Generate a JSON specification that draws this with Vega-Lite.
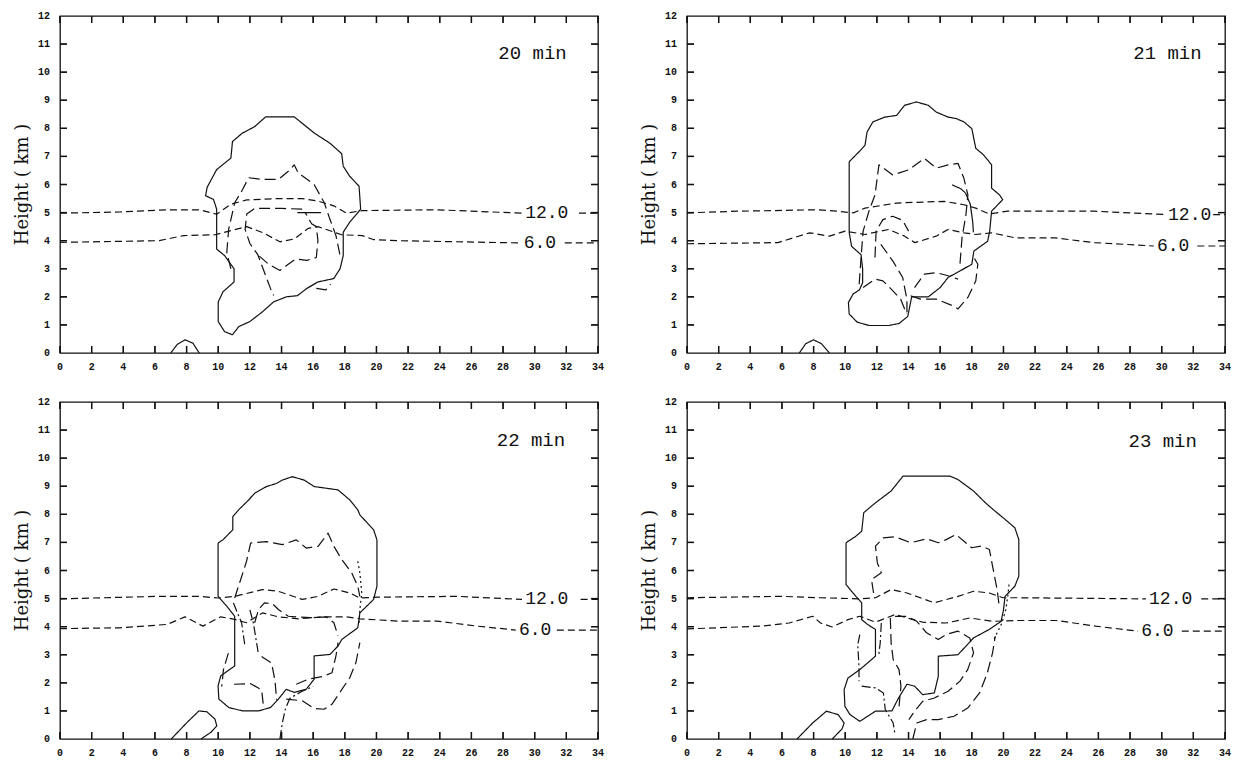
{
  "$schema": "https://vega.github.io/schema/vega-lite/v6.json",
  "background": "white",
  "padding": {"left": 13, "top": 10, "right": 2, "bottom": 2},
  "config": {
    "view": {"stroke": "#111", "strokeWidth": 1.3}
  },
  "datasets": {
    "xt": [{"v":0},{"v":2},{"v":4},{"v":6},{"v":8},{"v":10},{"v":12},{"v":14},{"v":16},{"v":18},{"v":20},{"v":22},{"v":24},{"v":26},{"v":28},{"v":30},{"v":32},{"v":34}],
    "yt": [{"v":1},{"v":2},{"v":3},{"v":4},{"v":5},{"v":6},{"v":7},{"v":8},{"v":9},{"v":10},{"v":11}],
    "yl": [{"v":0},{"v":1},{"v":2},{"v":3},{"v":4},{"v":5},{"v":6},{"v":7},{"v":8},{"v":9},{"v":10},{"v":11},{"v":12}],
    "ttl": [{"t":"Height ( km )"}],
    "contours": [
      {"p":1,"id":"cl","s":"solid","o":0,"x":13.0,"y":8.41},{"p":1,"id":"cl","s":"solid","o":1,"x":14.8,"y":8.41},{"p":1,"id":"cl","s":"solid","o":2,"x":16.1,"y":7.82},{"p":1,"id":"cl","s":"solid","o":3,"x":17.06,"y":7.47},{"p":1,"id":"cl","s":"solid","o":4,"x":17.8,"y":7.1},{"p":1,"id":"cl","s":"solid","o":5,"x":17.9,"y":6.65},{"p":1,"id":"cl","s":"solid","o":6,"x":18.3,"y":6.3},{"p":1,"id":"cl","s":"solid","o":7,"x":18.9,"y":5.94},{"p":1,"id":"cl","s":"solid","o":8,"x":19.0,"y":5.12},{"p":1,"id":"cl","s":"solid","o":9,"x":18.3,"y":4.65},{"p":1,"id":"cl","s":"solid","o":10,"x":17.9,"y":4.3},{"p":1,"id":"cl","s":"solid","o":11,"x":17.9,"y":3.47},{"p":1,"id":"cl","s":"solid","o":12,"x":17.7,"y":3.0},{"p":1,"id":"cl","s":"solid","o":13,"x":17.3,"y":2.65},{"p":1,"id":"cl","s":"solid","o":14,"x":16.3,"y":2.53},{"p":1,"id":"cl","s":"solid","o":15,"x":15.6,"y":2.3},{"p":1,"id":"cl","s":"solid","o":16,"x":15.0,"y":2.04},{"p":1,"id":"cl","s":"solid","o":17,"x":14.3,"y":2.0},{"p":1,"id":"cl","s":"solid","o":18,"x":13.5,"y":1.82},{"p":1,"id":"cl","s":"solid","o":19,"x":12.8,"y":1.47},{"p":1,"id":"cl","s":"solid","o":20,"x":12.0,"y":1.12},{"p":1,"id":"cl","s":"solid","o":21,"x":11.3,"y":0.94},{"p":1,"id":"cl","s":"solid","o":22,"x":10.9,"y":0.65},{"p":1,"id":"cl","s":"solid","o":23,"x":10.4,"y":0.76},{"p":1,"id":"cl","s":"solid","o":24,"x":10.0,"y":1.12},{"p":1,"id":"cl","s":"solid","o":25,"x":10.0,"y":1.82},{"p":1,"id":"cl","s":"solid","o":26,"x":10.3,"y":2.18},{"p":1,"id":"cl","s":"solid","o":27,"x":11.0,"y":2.53},{"p":1,"id":"cl","s":"solid","o":28,"x":11.0,"y":3.0},{"p":1,"id":"cl","s":"solid","o":29,"x":10.4,"y":3.47},{"p":1,"id":"cl","s":"solid","o":30,"x":9.9,"y":3.7},{"p":1,"id":"cl","s":"solid","o":31,"x":9.9,"y":5.12},{"p":1,"id":"cl","s":"solid","o":32,"x":9.7,"y":5.47},{"p":1,"id":"cl","s":"solid","o":33,"x":9.2,"y":5.6},{"p":1,"id":"cl","s":"solid","o":34,"x":9.3,"y":5.9},{"p":1,"id":"cl","s":"solid","o":35,"x":9.9,"y":6.53},{"p":1,"id":"cl","s":"solid","o":36,"x":10.8,"y":6.94},{"p":1,"id":"cl","s":"solid","o":37,"x":10.9,"y":7.53},{"p":1,"id":"cl","s":"solid","o":38,"x":11.5,"y":7.82},{"p":1,"id":"cl","s":"solid","o":39,"x":12.3,"y":8.06},{"p":1,"id":"cl","s":"solid","o":40,"x":13.0,"y":8.41},
      {"p":1,"id":"bp","s":"solid","o":0,"x":7.0,"y":0},{"p":1,"id":"bp","s":"solid","o":1,"x":7.4,"y":0.3},{"p":1,"id":"bp","s":"solid","o":2,"x":7.9,"y":0.47},{"p":1,"id":"bp","s":"solid","o":3,"x":8.4,"y":0.35},{"p":1,"id":"bp","s":"solid","o":4,"x":8.8,"y":0},
      {"p":1,"id":"ia","s":"short","o":0,"x":0,"y":4.98},{"p":1,"id":"ia","s":"short","o":1,"x":3.76,"y":5.02},{"p":1,"id":"ia","s":"short","o":2,"x":6.8,"y":5.1},{"p":1,"id":"ia","s":"short","o":3,"x":8.8,"y":5.1},{"p":1,"id":"ia","s":"short","o":4,"x":9.9,"y":4.94},{"p":1,"id":"ia","s":"short","o":5,"x":10.8,"y":5.3},{"p":1,"id":"ia","s":"short","o":6,"x":11.8,"y":5.45},{"p":1,"id":"ia","s":"short","o":7,"x":13.8,"y":5.5},{"p":1,"id":"ia","s":"short","o":8,"x":15.3,"y":5.5},{"p":1,"id":"ia","s":"short","o":9,"x":16.3,"y":5.41},{"p":1,"id":"ia","s":"short","o":10,"x":17.3,"y":5.24},{"p":1,"id":"ia","s":"short","o":11,"x":18.1,"y":4.98},{"p":1,"id":"ia","s":"short","o":12,"x":19.1,"y":5.07},{"p":1,"id":"ia","s":"short","o":13,"x":23.8,"y":5.1},{"p":1,"id":"ia","s":"short","o":14,"x":29.2,"y":4.98},
      {"p":1,"id":"ib","s":"short","o":0,"x":32.8,"y":4.98},{"p":1,"id":"ib","s":"short","o":1,"x":34,"y":4.98},
      {"p":1,"id":"ja","s":"short","o":0,"x":0,"y":3.94},{"p":1,"id":"ja","s":"short","o":1,"x":6.27,"y":4.0},{"p":1,"id":"ja","s":"short","o":2,"x":7.8,"y":4.18},{"p":1,"id":"ja","s":"short","o":3,"x":9.8,"y":4.21},{"p":1,"id":"ja","s":"short","o":4,"x":11.8,"y":4.5},{"p":1,"id":"ja","s":"short","o":5,"x":12.8,"y":4.29},{"p":1,"id":"ja","s":"short","o":6,"x":13.9,"y":3.96},{"p":1,"id":"ja","s":"short","o":7,"x":14.8,"y":4.06},{"p":1,"id":"ja","s":"short","o":8,"x":15.7,"y":4.44},{"p":1,"id":"ja","s":"short","o":9,"x":16.3,"y":4.5},{"p":1,"id":"ja","s":"short","o":10,"x":17.8,"y":4.21},{"p":1,"id":"ja","s":"short","o":11,"x":19.1,"y":4.18},{"p":1,"id":"ja","s":"short","o":12,"x":19.8,"y":4.04},{"p":1,"id":"ja","s":"short","o":13,"x":21.3,"y":4.0},{"p":1,"id":"ja","s":"short","o":14,"x":29.0,"y":3.92},
      {"p":1,"id":"jb","s":"short","o":0,"x":31.9,"y":3.92},{"p":1,"id":"jb","s":"short","o":1,"x":34,"y":3.92},
      {"p":1,"id":"A","s":"long","o":0,"x":10.8,"y":3.0},{"p":1,"id":"A","s":"long","o":1,"x":10.54,"y":3.58},{"p":1,"id":"A","s":"long","o":2,"x":10.66,"y":4.41},{"p":1,"id":"A","s":"long","o":3,"x":11.04,"y":5.35},{"p":1,"id":"A","s":"long","o":4,"x":11.54,"y":5.82},{"p":1,"id":"A","s":"long","o":5,"x":11.92,"y":6.24},{"p":1,"id":"A","s":"long","o":6,"x":12.8,"y":6.18},{"p":1,"id":"A","s":"long","o":7,"x":13.8,"y":6.18},{"p":1,"id":"A","s":"long","o":8,"x":14.43,"y":6.47},{"p":1,"id":"A","s":"long","o":9,"x":14.8,"y":6.7},{"p":1,"id":"A","s":"long","o":10,"x":15.06,"y":6.41},{"p":1,"id":"A","s":"long","o":11,"x":16.06,"y":6.0},{"p":1,"id":"A","s":"long","o":12,"x":16.7,"y":5.35},{"p":1,"id":"A","s":"long","o":13,"x":17.06,"y":4.76},{"p":1,"id":"A","s":"long","o":14,"x":17.44,"y":4.18},{"p":1,"id":"A","s":"long","o":15,"x":17.7,"y":3.47},
      {"p":1,"id":"B","s":"long","o":0,"x":15.3,"y":5.12},{"p":1,"id":"B","s":"long","o":1,"x":14.0,"y":5.15},{"p":1,"id":"B","s":"long","o":2,"x":12.3,"y":5.15},{"p":1,"id":"B","s":"long","o":3,"x":11.8,"y":4.95},{"p":1,"id":"B","s":"long","o":4,"x":11.7,"y":4.4},{"p":1,"id":"B","s":"long","o":5,"x":12.0,"y":3.9},{"p":1,"id":"B","s":"long","o":6,"x":12.5,"y":3.5},{"p":1,"id":"B","s":"long","o":7,"x":12.9,"y":2.9},{"p":1,"id":"B","s":"long","o":8,"x":13.3,"y":2.3},{"p":1,"id":"B","s":"long","o":9,"x":13.5,"y":2.05},
      {"p":1,"id":"C","s":"long","o":0,"x":12.6,"y":3.45},{"p":1,"id":"C","s":"long","o":1,"x":13.2,"y":3.15},{"p":1,"id":"C","s":"long","o":2,"x":13.9,"y":2.94},{"p":1,"id":"C","s":"long","o":3,"x":14.4,"y":3.15},{"p":1,"id":"C","s":"long","o":4,"x":14.9,"y":3.35},{"p":1,"id":"C","s":"long","o":5,"x":15.6,"y":3.3},{"p":1,"id":"C","s":"long","o":6,"x":16.2,"y":3.4},{"p":1,"id":"C","s":"long","o":7,"x":16.3,"y":4.0},{"p":1,"id":"C","s":"long","o":8,"x":16.2,"y":4.5},{"p":1,"id":"C","s":"long","o":9,"x":15.9,"y":4.6},{"p":1,"id":"C","s":"long","o":10,"x":15.5,"y":5.0},
      {"p":1,"id":"D","s":"long","o":0,"x":16.2,"y":2.3},{"p":1,"id":"D","s":"long","o":1,"x":16.8,"y":2.25},{"p":1,"id":"D","s":"long","o":2,"x":17.1,"y":2.45},
      {"p":1,"id":"T","s":"thick","o":0,"x":15.0,"y":5.0},{"p":1,"id":"T","s":"thick","o":1,"x":16.5,"y":5.0},

      {"p":2,"id":"cl","s":"solid","o":0,"x":10.25,"y":6.81},{"p":2,"id":"cl","s":"solid","o":1,"x":10.88,"y":7.17},{"p":2,"id":"cl","s":"solid","o":2,"x":11.25,"y":7.4},{"p":2,"id":"cl","s":"solid","o":3,"x":11.38,"y":7.87},{"p":2,"id":"cl","s":"solid","o":4,"x":11.75,"y":8.23},{"p":2,"id":"cl","s":"solid","o":5,"x":12.5,"y":8.4},{"p":2,"id":"cl","s":"solid","o":6,"x":13.25,"y":8.46},{"p":2,"id":"cl","s":"solid","o":7,"x":13.75,"y":8.82},{"p":2,"id":"cl","s":"solid","o":8,"x":14.5,"y":8.94},{"p":2,"id":"cl","s":"solid","o":9,"x":15.25,"y":8.82},{"p":2,"id":"cl","s":"solid","o":10,"x":15.75,"y":8.58},{"p":2,"id":"cl","s":"solid","o":11,"x":16.5,"y":8.4},{"p":2,"id":"cl","s":"solid","o":12,"x":17.0,"y":8.35},{"p":2,"id":"cl","s":"solid","o":13,"x":17.5,"y":8.23},{"p":2,"id":"cl","s":"solid","o":14,"x":18.0,"y":7.99},{"p":2,"id":"cl","s":"solid","o":15,"x":18.25,"y":7.29},{"p":2,"id":"cl","s":"solid","o":16,"x":18.75,"y":7.05},{"p":2,"id":"cl","s":"solid","o":17,"x":19.25,"y":6.7},{"p":2,"id":"cl","s":"solid","o":18,"x":19.25,"y":5.87},{"p":2,"id":"cl","s":"solid","o":19,"x":19.75,"y":5.63},{"p":2,"id":"cl","s":"solid","o":20,"x":19.95,"y":5.46},{"p":2,"id":"cl","s":"solid","o":21,"x":19.25,"y":5.05},{"p":2,"id":"cl","s":"solid","o":22,"x":19.13,"y":4.34},{"p":2,"id":"cl","s":"solid","o":23,"x":19.0,"y":3.98},{"p":2,"id":"cl","s":"solid","o":24,"x":18.13,"y":3.63},{"p":2,"id":"cl","s":"solid","o":25,"x":18.0,"y":3.16},{"p":2,"id":"cl","s":"solid","o":26,"x":17.25,"y":2.92},{"p":2,"id":"cl","s":"solid","o":27,"x":16.5,"y":2.69},{"p":2,"id":"cl","s":"solid","o":28,"x":16.0,"y":2.33},{"p":2,"id":"cl","s":"solid","o":29,"x":15.25,"y":2.0},{"p":2,"id":"cl","s":"solid","o":30,"x":14.2,"y":2.0},{"p":2,"id":"cl","s":"solid","o":31,"x":13.95,"y":1.3},{"p":2,"id":"cl","s":"solid","o":32,"x":13.4,"y":1.05},{"p":2,"id":"cl","s":"solid","o":33,"x":12.75,"y":0.98},{"p":2,"id":"cl","s":"solid","o":34,"x":11.5,"y":0.98},{"p":2,"id":"cl","s":"solid","o":35,"x":10.75,"y":1.1},{"p":2,"id":"cl","s":"solid","o":36,"x":10.25,"y":1.39},{"p":2,"id":"cl","s":"solid","o":37,"x":10.2,"y":1.8},{"p":2,"id":"cl","s":"solid","o":38,"x":10.5,"y":2.1},{"p":2,"id":"cl","s":"solid","o":39,"x":10.9,"y":2.25},{"p":2,"id":"cl","s":"solid","o":40,"x":11.1,"y":2.5},{"p":2,"id":"cl","s":"solid","o":41,"x":11.1,"y":3.0},{"p":2,"id":"cl","s":"solid","o":42,"x":11.0,"y":3.5},{"p":2,"id":"cl","s":"solid","o":43,"x":10.4,"y":3.8},{"p":2,"id":"cl","s":"solid","o":44,"x":10.25,"y":4.3},{"p":2,"id":"cl","s":"solid","o":45,"x":10.25,"y":6.81},
      {"p":2,"id":"bp","s":"solid","o":0,"x":7.1,"y":0},{"p":2,"id":"bp","s":"solid","o":1,"x":7.5,"y":0.33},{"p":2,"id":"bp","s":"solid","o":2,"x":8.0,"y":0.47},{"p":2,"id":"bp","s":"solid","o":3,"x":8.5,"y":0.33},{"p":2,"id":"bp","s":"solid","o":4,"x":9.0,"y":0},
      {"p":2,"id":"ia","s":"short","o":0,"x":0,"y":4.99},{"p":2,"id":"ia","s":"short","o":1,"x":3.25,"y":5.05},{"p":2,"id":"ia","s":"short","o":2,"x":8.25,"y":5.1},{"p":2,"id":"ia","s":"short","o":3,"x":9.5,"y":5.05},{"p":2,"id":"ia","s":"short","o":4,"x":10.5,"y":4.99},{"p":2,"id":"ia","s":"short","o":5,"x":11.25,"y":5.16},{"p":2,"id":"ia","s":"short","o":6,"x":13.25,"y":5.34},{"p":2,"id":"ia","s":"short","o":7,"x":16.25,"y":5.4},{"p":2,"id":"ia","s":"short","o":8,"x":17.5,"y":5.28},{"p":2,"id":"ia","s":"short","o":9,"x":18.25,"y":5.16},{"p":2,"id":"ia","s":"short","o":10,"x":19.1,"y":4.95},{"p":2,"id":"ia","s":"short","o":11,"x":20.25,"y":5.05},{"p":2,"id":"ia","s":"short","o":12,"x":25.75,"y":5.05},{"p":2,"id":"ia","s":"short","o":13,"x":30.2,"y":4.93},
      {"p":2,"id":"ib","s":"short","o":0,"x":33.25,"y":4.93},{"p":2,"id":"ib","s":"short","o":1,"x":34,"y":4.93},
      {"p":2,"id":"ja","s":"short","o":0,"x":0,"y":3.89},{"p":2,"id":"ja","s":"short","o":1,"x":5.75,"y":3.93},{"p":2,"id":"ja","s":"short","o":2,"x":7.75,"y":4.28},{"p":2,"id":"ja","s":"short","o":3,"x":9.0,"y":4.16},{"p":2,"id":"ja","s":"short","o":4,"x":10.0,"y":4.34},{"p":2,"id":"ja","s":"short","o":5,"x":11.25,"y":4.22},{"p":2,"id":"ja","s":"short","o":6,"x":12.75,"y":4.4},{"p":2,"id":"ja","s":"short","o":7,"x":13.75,"y":4.16},{"p":2,"id":"ja","s":"short","o":8,"x":14.4,"y":3.93},{"p":2,"id":"ja","s":"short","o":9,"x":15.75,"y":4.16},{"p":2,"id":"ja","s":"short","o":10,"x":16.5,"y":4.4},{"p":2,"id":"ja","s":"short","o":11,"x":17.5,"y":4.28},{"p":2,"id":"ja","s":"short","o":12,"x":18.25,"y":4.22},{"p":2,"id":"ja","s":"short","o":13,"x":19.25,"y":4.28},{"p":2,"id":"ja","s":"short","o":14,"x":20.75,"y":4.1},{"p":2,"id":"ja","s":"short","o":15,"x":23.25,"y":4.1},{"p":2,"id":"ja","s":"short","o":16,"x":25.75,"y":3.93},{"p":2,"id":"ja","s":"short","o":17,"x":29.5,"y":3.81},
      {"p":2,"id":"jb","s":"short","o":0,"x":32.25,"y":3.81},{"p":2,"id":"jb","s":"short","o":1,"x":34,"y":3.81},
      {"p":2,"id":"A","s":"long","o":0,"x":10.88,"y":2.45},{"p":2,"id":"A","s":"long","o":1,"x":11.0,"y":3.4},{"p":2,"id":"A","s":"long","o":2,"x":11.13,"y":4.34},{"p":2,"id":"A","s":"long","o":3,"x":11.5,"y":5.05},{"p":2,"id":"A","s":"long","o":4,"x":11.88,"y":5.63},{"p":2,"id":"A","s":"long","o":5,"x":12.13,"y":6.7},{"p":2,"id":"A","s":"long","o":6,"x":13.0,"y":6.34},{"p":2,"id":"A","s":"long","o":7,"x":14.0,"y":6.52},{"p":2,"id":"A","s":"long","o":8,"x":15.0,"y":6.93},{"p":2,"id":"A","s":"long","o":9,"x":15.75,"y":6.58},{"p":2,"id":"A","s":"long","o":10,"x":16.5,"y":6.7},{"p":2,"id":"A","s":"long","o":11,"x":17.13,"y":6.75},{"p":2,"id":"A","s":"long","o":12,"x":17.5,"y":6.22},{"p":2,"id":"A","s":"long","o":13,"x":17.75,"y":5.63},{"p":2,"id":"A","s":"long","o":14,"x":17.63,"y":4.93},{"p":2,"id":"A","s":"long","o":15,"x":17.38,"y":4.1},{"p":2,"id":"A","s":"long","o":16,"x":17.25,"y":3.16},
      {"p":2,"id":"B","s":"long","o":0,"x":11.88,"y":3.4},{"p":2,"id":"B","s":"long","o":1,"x":11.95,"y":4.34},{"p":2,"id":"B","s":"long","o":2,"x":12.38,"y":4.75},{"p":2,"id":"B","s":"long","o":3,"x":13.0,"y":4.87},{"p":2,"id":"B","s":"long","o":4,"x":13.63,"y":4.72},{"p":2,"id":"B","s":"long","o":5,"x":14.0,"y":4.34},
      {"p":2,"id":"C","s":"long","o":0,"x":12.25,"y":3.87},{"p":2,"id":"C","s":"long","o":1,"x":13.0,"y":3.28},{"p":2,"id":"C","s":"long","o":2,"x":13.63,"y":2.69},{"p":2,"id":"C","s":"long","o":3,"x":13.9,"y":1.9},{"p":2,"id":"C","s":"long","o":4,"x":13.9,"y":1.39},
      {"p":2,"id":"D","s":"long","o":0,"x":11.13,"y":2.33},{"p":2,"id":"D","s":"long","o":1,"x":11.88,"y":2.63},{"p":2,"id":"D","s":"long","o":2,"x":12.38,"y":2.57},{"p":2,"id":"D","s":"long","o":3,"x":13.0,"y":2.22},{"p":2,"id":"D","s":"long","o":4,"x":13.5,"y":1.92},{"p":2,"id":"D","s":"long","o":5,"x":13.88,"y":1.39},
      {"p":2,"id":"E","s":"long","o":0,"x":14.13,"y":2.04},{"p":2,"id":"E","s":"long","o":1,"x":14.75,"y":1.92},{"p":2,"id":"E","s":"long","o":2,"x":15.75,"y":1.92},{"p":2,"id":"E","s":"long","o":3,"x":16.75,"y":1.69},{"p":2,"id":"E","s":"long","o":4,"x":17.13,"y":1.57},{"p":2,"id":"E","s":"long","o":5,"x":17.75,"y":1.98},{"p":2,"id":"E","s":"long","o":6,"x":18.25,"y":2.57},{"p":2,"id":"E","s":"long","o":7,"x":18.38,"y":3.16},{"p":2,"id":"E","s":"long","o":8,"x":18.13,"y":3.4},
      {"p":2,"id":"F","s":"long","o":0,"x":14.38,"y":2.33},{"p":2,"id":"F","s":"long","o":1,"x":15.0,"y":2.81},{"p":2,"id":"F","s":"long","o":2,"x":15.75,"y":2.86},{"p":2,"id":"F","s":"long","o":3,"x":16.5,"y":2.75},{"p":2,"id":"F","s":"long","o":4,"x":17.13,"y":2.63},
      {"p":2,"id":"T","s":"thick","o":0,"x":16.75,"y":5.99},{"p":2,"id":"T","s":"thick","o":1,"x":17.3,"y":5.85},{"p":2,"id":"T","s":"thick","o":2,"x":17.6,"y":5.7},
      {"p":2,"id":"U","s":"solid","o":0,"x":17.6,"y":5.7},{"p":2,"id":"U","s":"solid","o":1,"x":17.9,"y":5.3},{"p":2,"id":"U","s":"solid","o":2,"x":18.05,"y":4.7},{"p":2,"id":"U","s":"solid","o":3,"x":18.1,"y":4.3},

      {"p":3,"id":"cl","s":"solid","o":0,"x":9.99,"y":6.98},{"p":3,"id":"cl","s":"solid","o":1,"x":10.29,"y":7.09},{"p":3,"id":"cl","s":"solid","o":2,"x":10.92,"y":7.45},{"p":3,"id":"cl","s":"solid","o":3,"x":10.92,"y":7.92},{"p":3,"id":"cl","s":"solid","o":4,"x":11.29,"y":8.16},{"p":3,"id":"cl","s":"solid","o":5,"x":11.92,"y":8.51},{"p":3,"id":"cl","s":"solid","o":6,"x":12.3,"y":8.75},{"p":3,"id":"cl","s":"solid","o":7,"x":13.05,"y":8.99},{"p":3,"id":"cl","s":"solid","o":8,"x":13.68,"y":9.1},{"p":3,"id":"cl","s":"solid","o":9,"x":14.05,"y":9.22},{"p":3,"id":"cl","s":"solid","o":10,"x":14.68,"y":9.34},{"p":3,"id":"cl","s":"solid","o":11,"x":15.43,"y":9.22},{"p":3,"id":"cl","s":"solid","o":12,"x":16.06,"y":8.99},{"p":3,"id":"cl","s":"solid","o":13,"x":17.57,"y":8.87},{"p":3,"id":"cl","s":"solid","o":14,"x":18.32,"y":8.51},{"p":3,"id":"cl","s":"solid","o":15,"x":18.82,"y":8.16},{"p":3,"id":"cl","s":"solid","o":16,"x":18.95,"y":7.98},{"p":3,"id":"cl","s":"solid","o":17,"x":19.82,"y":7.45},{"p":3,"id":"cl","s":"solid","o":18,"x":20.03,"y":7.09},{"p":3,"id":"cl","s":"solid","o":19,"x":20.03,"y":5.44},{"p":3,"id":"cl","s":"solid","o":20,"x":19.82,"y":4.97},{"p":3,"id":"cl","s":"solid","o":21,"x":18.95,"y":4.49},{"p":3,"id":"cl","s":"solid","o":22,"x":18.82,"y":3.96},{"p":3,"id":"cl","s":"solid","o":23,"x":17.82,"y":3.55},{"p":3,"id":"cl","s":"solid","o":24,"x":17.57,"y":3.31},{"p":3,"id":"cl","s":"solid","o":25,"x":17.06,"y":3.01},{"p":3,"id":"cl","s":"solid","o":26,"x":16.06,"y":2.96},{"p":3,"id":"cl","s":"solid","o":27,"x":16.06,"y":2.13},{"p":3,"id":"cl","s":"solid","o":28,"x":15.56,"y":1.77},{"p":3,"id":"cl","s":"solid","o":29,"x":14.8,"y":1.66},{"p":3,"id":"cl","s":"solid","o":30,"x":14.3,"y":1.77},{"p":3,"id":"cl","s":"solid","o":31,"x":13.8,"y":1.42},{"p":3,"id":"cl","s":"solid","o":32,"x":13.3,"y":1.12},{"p":3,"id":"cl","s":"solid","o":33,"x":12.55,"y":1.0},{"p":3,"id":"cl","s":"solid","o":34,"x":11.54,"y":1.0},{"p":3,"id":"cl","s":"solid","o":35,"x":10.67,"y":1.12},{"p":3,"id":"cl","s":"solid","o":36,"x":10.04,"y":1.42},{"p":3,"id":"cl","s":"solid","o":37,"x":9.99,"y":1.89},{"p":3,"id":"cl","s":"solid","o":38,"x":10.16,"y":2.25},{"p":3,"id":"cl","s":"solid","o":39,"x":11.04,"y":2.6},{"p":3,"id":"cl","s":"solid","o":40,"x":11.04,"y":4.37},{"p":3,"id":"cl","s":"solid","o":41,"x":10.54,"y":4.73},{"p":3,"id":"cl","s":"solid","o":42,"x":9.99,"y":5.08},{"p":3,"id":"cl","s":"solid","o":43,"x":9.99,"y":6.98},
      {"p":3,"id":"bp","s":"solid","o":0,"x":7.03,"y":0},{"p":3,"id":"bp","s":"solid","o":1,"x":8.03,"y":0.59},{"p":3,"id":"bp","s":"solid","o":2,"x":8.78,"y":1.0},{"p":3,"id":"bp","s":"solid","o":3,"x":9.28,"y":0.97},{"p":3,"id":"bp","s":"solid","o":4,"x":9.79,"y":0.71},{"p":3,"id":"bp","s":"solid","o":5,"x":9.91,"y":0.47},{"p":3,"id":"bp","s":"solid","o":6,"x":9.54,"y":0.24},{"p":3,"id":"bp","s":"solid","o":7,"x":8.91,"y":0},
      {"p":3,"id":"ia","s":"short","o":0,"x":0,"y":4.99},{"p":3,"id":"ia","s":"short","o":1,"x":6.27,"y":5.08},{"p":3,"id":"ia","s":"short","o":2,"x":8.78,"y":5.08},{"p":3,"id":"ia","s":"short","o":3,"x":9.99,"y":5.02},{"p":3,"id":"ia","s":"short","o":4,"x":11.04,"y":5.08},{"p":3,"id":"ia","s":"short","o":5,"x":12.8,"y":5.32},{"p":3,"id":"ia","s":"short","o":6,"x":13.8,"y":5.26},{"p":3,"id":"ia","s":"short","o":7,"x":15.31,"y":4.97},{"p":3,"id":"ia","s":"short","o":8,"x":16.31,"y":5.08},{"p":3,"id":"ia","s":"short","o":9,"x":17.31,"y":5.34},{"p":3,"id":"ia","s":"short","o":10,"x":18.32,"y":5.2},{"p":3,"id":"ia","s":"short","o":11,"x":18.95,"y":5.02},{"p":3,"id":"ia","s":"short","o":12,"x":20.08,"y":5.05},{"p":3,"id":"ia","s":"short","o":13,"x":25.09,"y":5.08},{"p":3,"id":"ia","s":"short","o":14,"x":29.2,"y":4.97},
      {"p":3,"id":"ib","s":"short","o":0,"x":32.9,"y":4.97},{"p":3,"id":"ib","s":"short","o":1,"x":34,"y":4.97},
      {"p":3,"id":"ja","s":"short","o":0,"x":0,"y":3.93},{"p":3,"id":"ja","s":"short","o":1,"x":3.76,"y":3.96},{"p":3,"id":"ja","s":"short","o":2,"x":6.78,"y":4.08},{"p":3,"id":"ja","s":"short","o":3,"x":7.9,"y":4.35},{"p":3,"id":"ja","s":"short","o":4,"x":9.03,"y":4.02},{"p":3,"id":"ja","s":"short","o":5,"x":10.16,"y":4.35},{"p":3,"id":"ja","s":"short","o":6,"x":11.04,"y":4.26},{"p":3,"id":"ja","s":"short","o":7,"x":11.79,"y":4.14},{"p":3,"id":"ja","s":"short","o":8,"x":12.8,"y":4.49},{"p":3,"id":"ja","s":"short","o":9,"x":13.8,"y":4.35},{"p":3,"id":"ja","s":"short","o":10,"x":15.06,"y":4.28},{"p":3,"id":"ja","s":"short","o":11,"x":16.81,"y":4.35},{"p":3,"id":"ja","s":"short","o":12,"x":18.07,"y":4.35},{"p":3,"id":"ja","s":"short","o":13,"x":18.95,"y":4.28},{"p":3,"id":"ja","s":"short","o":14,"x":21.33,"y":4.2},{"p":3,"id":"ja","s":"short","o":15,"x":23.84,"y":4.2},{"p":3,"id":"ja","s":"short","o":16,"x":26.35,"y":4.02},{"p":3,"id":"ja","s":"short","o":17,"x":28.8,"y":3.88},
      {"p":3,"id":"jb","s":"short","o":0,"x":31.4,"y":3.88},{"p":3,"id":"jb","s":"short","o":1,"x":34,"y":3.88},
      {"p":3,"id":"A","s":"long","o":0,"x":11.04,"y":5.02},{"p":3,"id":"A","s":"long","o":1,"x":11.42,"y":5.68},{"p":3,"id":"A","s":"long","o":2,"x":11.79,"y":6.33},{"p":3,"id":"A","s":"long","o":3,"x":12.05,"y":6.98},{"p":3,"id":"A","s":"long","o":4,"x":13.05,"y":7.03},{"p":3,"id":"A","s":"long","o":5,"x":14.05,"y":6.92},{"p":3,"id":"A","s":"long","o":6,"x":14.93,"y":7.09},{"p":3,"id":"A","s":"long","o":7,"x":15.56,"y":6.8},{"p":3,"id":"A","s":"long","o":8,"x":16.31,"y":6.86},{"p":3,"id":"A","s":"long","o":9,"x":16.94,"y":7.33},{"p":3,"id":"A","s":"long","o":10,"x":17.31,"y":6.86},{"p":3,"id":"A","s":"long","o":11,"x":17.82,"y":6.38},{"p":3,"id":"A","s":"long","o":12,"x":18.44,"y":5.91},{"p":3,"id":"A","s":"long","o":13,"x":18.82,"y":5.44},{"p":3,"id":"A","s":"long","o":14,"x":18.95,"y":5.08},
      {"p":3,"id":"B","s":"long","o":0,"x":12.3,"y":4.14},{"p":3,"id":"B","s":"long","o":1,"x":12.55,"y":4.61},{"p":3,"id":"B","s":"long","o":2,"x":12.92,"y":4.85},{"p":3,"id":"B","s":"long","o":3,"x":13.43,"y":4.82},{"p":3,"id":"B","s":"long","o":4,"x":13.8,"y":4.61},{"p":3,"id":"B","s":"long","o":5,"x":14.43,"y":4.37},{"p":3,"id":"B","s":"long","o":6,"x":15.81,"y":4.32},{"p":3,"id":"B","s":"long","o":7,"x":16.81,"y":4.35},{"p":3,"id":"B","s":"long","o":8,"x":17.31,"y":4.14},{"p":3,"id":"B","s":"long","o":9,"x":17.57,"y":3.67},
      {"p":3,"id":"E","s":"long","o":0,"x":14.3,"y":1.42},{"p":3,"id":"E","s":"long","o":1,"x":15.31,"y":1.36},{"p":3,"id":"E","s":"long","o":2,"x":16.06,"y":1.09},{"p":3,"id":"E","s":"long","o":3,"x":16.69,"y":1.06},{"p":3,"id":"E","s":"long","o":4,"x":17.19,"y":1.24},{"p":3,"id":"E","s":"long","o":5,"x":17.69,"y":1.66},{"p":3,"id":"E","s":"long","o":6,"x":18.32,"y":2.19},{"p":3,"id":"E","s":"long","o":7,"x":18.7,"y":2.72},{"p":3,"id":"E","s":"long","o":8,"x":18.95,"y":3.43},
      {"p":3,"id":"F","s":"long","o":0,"x":14.93,"y":1.95},{"p":3,"id":"F","s":"long","o":1,"x":15.68,"y":2.13},{"p":3,"id":"F","s":"long","o":2,"x":16.56,"y":2.22},{"p":3,"id":"F","s":"long","o":3,"x":17.19,"y":2.36},{"p":3,"id":"F","s":"long","o":4,"x":17.44,"y":2.96},{"p":3,"id":"F","s":"long","o":5,"x":17.57,"y":3.43},
      {"p":3,"id":"G","s":"long","o":0,"x":12.74,"y":2.94},{"p":3,"id":"G","s":"long","o":1,"x":13.37,"y":2.7},{"p":3,"id":"G","s":"long","o":2,"x":13.58,"y":2.11},{"p":3,"id":"G","s":"long","o":3,"x":13.69,"y":1.4},
      {"p":3,"id":"H","s":"long","o":0,"x":11.0,"y":1.95},{"p":3,"id":"H","s":"long","o":1,"x":12.05,"y":1.97},{"p":3,"id":"H","s":"long","o":2,"x":12.74,"y":1.75},{"p":3,"id":"H","s":"long","o":3,"x":12.85,"y":1.22},
      {"p":3,"id":"I","s":"long","o":0,"x":10.64,"y":3.06},{"p":3,"id":"I","s":"long","o":1,"x":10.33,"y":2.47},{"p":3,"id":"I","s":"long","o":2,"x":10.22,"y":1.87},
      {"p":3,"id":"J","s":"dashdot","o":0,"x":13.9,"y":0},{"p":3,"id":"J","s":"dashdot","o":1,"x":14.05,"y":0.57},{"p":3,"id":"J","s":"dashdot","o":2,"x":14.26,"y":1.1},{"p":3,"id":"J","s":"dashdot","o":3,"x":14.53,"y":1.45},{"p":3,"id":"J","s":"dashdot","o":4,"x":15.27,"y":1.69},{"p":3,"id":"J","s":"dashdot","o":5,"x":16.0,"y":1.87},
      {"p":3,"id":"K","s":"dashdot","o":0,"x":10.96,"y":4.84},{"p":3,"id":"K","s":"dashdot","o":1,"x":11.48,"y":4.13},{"p":3,"id":"K","s":"dashdot","o":2,"x":11.69,"y":3.3},
      {"p":3,"id":"L","s":"dashdot","o":0,"x":12.0,"y":4.6},{"p":3,"id":"L","s":"dashdot","o":1,"x":12.22,"y":4.13},{"p":3,"id":"L","s":"dashdot","o":2,"x":12.53,"y":3.06},
      {"p":3,"id":"T","s":"dotted","o":0,"x":18.82,"y":6.33},{"p":3,"id":"T","s":"dotted","o":1,"x":18.95,"y":5.91},{"p":3,"id":"T","s":"dotted","o":2,"x":19.07,"y":5.2},{"p":3,"id":"T","s":"dotted","o":3,"x":18.95,"y":4.61},{"p":3,"id":"T","s":"dotted","o":4,"x":18.9,"y":4.08},

      {"p":4,"id":"cl","s":"solid","o":0,"x":10.05,"y":6.99},{"p":4,"id":"cl","s":"solid","o":1,"x":10.67,"y":7.22},{"p":4,"id":"cl","s":"solid","o":2,"x":11.04,"y":7.4},{"p":4,"id":"cl","s":"solid","o":3,"x":11.17,"y":8.06},{"p":4,"id":"cl","s":"solid","o":4,"x":11.91,"y":8.41},{"p":4,"id":"cl","s":"solid","o":5,"x":12.9,"y":8.83},{"p":4,"id":"cl","s":"solid","o":6,"x":13.65,"y":9.36},{"p":4,"id":"cl","s":"solid","o":7,"x":16.63,"y":9.36},{"p":4,"id":"cl","s":"solid","o":8,"x":17.12,"y":9.24},{"p":4,"id":"cl","s":"solid","o":9,"x":18.11,"y":8.83},{"p":4,"id":"cl","s":"solid","o":10,"x":18.86,"y":8.41},{"p":4,"id":"cl","s":"solid","o":11,"x":19.35,"y":8.17},{"p":4,"id":"cl","s":"solid","o":12,"x":20.1,"y":7.82},{"p":4,"id":"cl","s":"solid","o":13,"x":20.72,"y":7.52},{"p":4,"id":"cl","s":"solid","o":14,"x":20.97,"y":7.1},{"p":4,"id":"cl","s":"solid","o":15,"x":20.97,"y":5.8},{"p":4,"id":"cl","s":"solid","o":16,"x":20.72,"y":5.44},{"p":4,"id":"cl","s":"solid","o":17,"x":20.1,"y":5.08},{"p":4,"id":"cl","s":"solid","o":18,"x":20.0,"y":4.6},{"p":4,"id":"cl","s":"solid","o":19,"x":19.85,"y":4.19},{"p":4,"id":"cl","s":"solid","o":20,"x":19.1,"y":3.9},{"p":4,"id":"cl","s":"solid","o":21,"x":18.11,"y":3.6},{"p":4,"id":"cl","s":"solid","o":22,"x":17.62,"y":3.3},{"p":4,"id":"cl","s":"solid","o":23,"x":17.12,"y":3.0},{"p":4,"id":"cl","s":"solid","o":24,"x":15.88,"y":2.95},{"p":4,"id":"cl","s":"solid","o":25,"x":15.88,"y":2.23},{"p":4,"id":"cl","s":"solid","o":26,"x":15.63,"y":1.64},{"p":4,"id":"cl","s":"solid","o":27,"x":14.89,"y":1.58},{"p":4,"id":"cl","s":"solid","o":28,"x":14.39,"y":1.88},{"p":4,"id":"cl","s":"solid","o":29,"x":13.9,"y":1.95},{"p":4,"id":"cl","s":"solid","o":30,"x":13.37,"y":1.46},{"p":4,"id":"cl","s":"solid","o":31,"x":12.95,"y":1.0},{"p":4,"id":"cl","s":"solid","o":32,"x":11.91,"y":0.99},{"p":4,"id":"cl","s":"solid","o":33,"x":10.92,"y":0.63},{"p":4,"id":"cl","s":"solid","o":34,"x":10.3,"y":0.87},{"p":4,"id":"cl","s":"solid","o":35,"x":9.98,"y":1.16},{"p":4,"id":"cl","s":"solid","o":36,"x":9.93,"y":1.76},{"p":4,"id":"cl","s":"solid","o":37,"x":10.17,"y":2.17},{"p":4,"id":"cl","s":"solid","o":38,"x":10.92,"y":2.47},{"p":4,"id":"cl","s":"solid","o":39,"x":11.54,"y":2.77},{"p":4,"id":"cl","s":"solid","o":40,"x":11.91,"y":2.95},{"p":4,"id":"cl","s":"solid","o":41,"x":11.91,"y":3.9},{"p":4,"id":"cl","s":"solid","o":42,"x":11.41,"y":4.08},{"p":4,"id":"cl","s":"solid","o":43,"x":11.04,"y":4.25},{"p":4,"id":"cl","s":"solid","o":44,"x":11.04,"y":4.85},{"p":4,"id":"cl","s":"solid","o":45,"x":10.67,"y":5.08},{"p":4,"id":"cl","s":"solid","o":46,"x":10.05,"y":5.5},{"p":4,"id":"cl","s":"solid","o":47,"x":10.05,"y":6.99},
      {"p":4,"id":"bp","s":"solid","o":0,"x":6.95,"y":0},{"p":4,"id":"bp","s":"solid","o":1,"x":7.94,"y":0.57},{"p":4,"id":"bp","s":"solid","o":2,"x":8.81,"y":0.99},{"p":4,"id":"bp","s":"solid","o":3,"x":9.55,"y":0.87},{"p":4,"id":"bp","s":"solid","o":4,"x":9.93,"y":0.57},{"p":4,"id":"bp","s":"solid","o":5,"x":9.8,"y":0.36},{"p":4,"id":"bp","s":"solid","o":6,"x":9.18,"y":0},
      {"p":4,"id":"ia","s":"short","o":0,"x":0,"y":5.03},{"p":4,"id":"ia","s":"short","o":1,"x":5.96,"y":5.08},{"p":4,"id":"ia","s":"short","o":2,"x":8.44,"y":5.03},{"p":4,"id":"ia","s":"short","o":3,"x":10.92,"y":4.99},{"p":4,"id":"ia","s":"short","o":4,"x":11.91,"y":5.03},{"p":4,"id":"ia","s":"short","o":5,"x":12.9,"y":5.32},{"p":4,"id":"ia","s":"short","o":6,"x":13.9,"y":5.2},{"p":4,"id":"ia","s":"short","o":7,"x":15.63,"y":4.85},{"p":4,"id":"ia","s":"short","o":8,"x":17.12,"y":5.08},{"p":4,"id":"ia","s":"short","o":9,"x":18.11,"y":5.26},{"p":4,"id":"ia","s":"short","o":10,"x":19.1,"y":5.2},{"p":4,"id":"ia","s":"short","o":11,"x":19.98,"y":5.03},{"p":4,"id":"ia","s":"short","o":12,"x":20.84,"y":5.03},{"p":4,"id":"ia","s":"short","o":13,"x":29.0,"y":4.99},
      {"p":4,"id":"ib","s":"short","o":0,"x":32.5,"y":4.99},{"p":4,"id":"ib","s":"short","o":1,"x":34,"y":4.99},
      {"p":4,"id":"ja","s":"short","o":0,"x":0,"y":3.92},{"p":4,"id":"ja","s":"short","o":1,"x":4.71,"y":4.02},{"p":4,"id":"ja","s":"short","o":2,"x":6.45,"y":4.13},{"p":4,"id":"ja","s":"short","o":3,"x":7.94,"y":4.37},{"p":4,"id":"ja","s":"short","o":4,"x":8.44,"y":4.13},{"p":4,"id":"ja","s":"short","o":5,"x":9.18,"y":3.99},{"p":4,"id":"ja","s":"short","o":6,"x":10.17,"y":4.25},{"p":4,"id":"ja","s":"short","o":7,"x":10.92,"y":4.37},{"p":4,"id":"ja","s":"short","o":8,"x":11.91,"y":4.16},{"p":4,"id":"ja","s":"short","o":9,"x":13.15,"y":4.43},{"p":4,"id":"ja","s":"short","o":10,"x":14.89,"y":4.16},{"p":4,"id":"ja","s":"short","o":11,"x":16.38,"y":4.13},{"p":4,"id":"ja","s":"short","o":12,"x":17.87,"y":4.31},{"p":4,"id":"ja","s":"short","o":13,"x":19.35,"y":4.19},{"p":4,"id":"ja","s":"short","o":14,"x":20.84,"y":4.22},{"p":4,"id":"ja","s":"short","o":15,"x":23.33,"y":4.22},{"p":4,"id":"ja","s":"short","o":16,"x":25.81,"y":4.02},{"p":4,"id":"ja","s":"short","o":17,"x":28.5,"y":3.84},
      {"p":4,"id":"jb","s":"short","o":0,"x":31.27,"y":3.84},{"p":4,"id":"jb","s":"short","o":1,"x":34,"y":3.84},
      {"p":4,"id":"A","s":"long","o":0,"x":11.79,"y":5.2},{"p":4,"id":"A","s":"long","o":1,"x":11.66,"y":5.68},{"p":4,"id":"A","s":"long","o":2,"x":12.28,"y":5.92},{"p":4,"id":"A","s":"long","o":3,"x":12.03,"y":6.27},{"p":4,"id":"A","s":"long","o":4,"x":11.91,"y":6.87},{"p":4,"id":"A","s":"long","o":5,"x":12.41,"y":7.16},{"p":4,"id":"A","s":"long","o":6,"x":13.15,"y":7.2},{"p":4,"id":"A","s":"long","o":7,"x":14.14,"y":6.99},{"p":4,"id":"A","s":"long","o":8,"x":15.14,"y":7.13},{"p":4,"id":"A","s":"long","o":9,"x":15.88,"y":6.99},{"p":4,"id":"A","s":"long","o":10,"x":16.38,"y":7.1},{"p":4,"id":"A","s":"long","o":11,"x":17.0,"y":7.28},{"p":4,"id":"A","s":"long","o":12,"x":17.49,"y":7.05},{"p":4,"id":"A","s":"long","o":13,"x":17.99,"y":6.81},{"p":4,"id":"A","s":"long","o":14,"x":18.61,"y":6.87},{"p":4,"id":"A","s":"long","o":15,"x":19.11,"y":6.75},{"p":4,"id":"A","s":"long","o":16,"x":19.35,"y":6.04},{"p":4,"id":"A","s":"long","o":17,"x":19.6,"y":5.32},{"p":4,"id":"A","s":"long","o":18,"x":19.73,"y":4.73},
      {"p":4,"id":"B","s":"long","o":0,"x":13.15,"y":4.37},{"p":4,"id":"B","s":"long","o":1,"x":13.9,"y":4.37},{"p":4,"id":"B","s":"long","o":2,"x":14.52,"y":4.19},{"p":4,"id":"B","s":"long","o":3,"x":15.14,"y":3.78},{"p":4,"id":"B","s":"long","o":4,"x":15.88,"y":3.54},{"p":4,"id":"B","s":"long","o":5,"x":16.38,"y":3.72},{"p":4,"id":"B","s":"long","o":6,"x":17.12,"y":3.84},{"p":4,"id":"B","s":"long","o":7,"x":17.87,"y":3.6},{"p":4,"id":"B","s":"long","o":8,"x":18.11,"y":3.07},{"p":4,"id":"B","s":"long","o":9,"x":17.74,"y":2.47},{"p":4,"id":"B","s":"long","o":10,"x":17.25,"y":2.06},{"p":4,"id":"B","s":"long","o":11,"x":16.5,"y":1.7},{"p":4,"id":"B","s":"long","o":12,"x":15.63,"y":1.46},{"p":4,"id":"B","s":"long","o":13,"x":14.89,"y":1.34},{"p":4,"id":"B","s":"long","o":14,"x":14.39,"y":0.99},{"p":4,"id":"B","s":"long","o":15,"x":14.02,"y":0.69},
      {"p":4,"id":"C","s":"long","o":0,"x":12.85,"y":4.31},{"p":4,"id":"C","s":"long","o":1,"x":12.9,"y":3.42},{"p":4,"id":"C","s":"long","o":2,"x":13.03,"y":2.83},{"p":4,"id":"C","s":"long","o":3,"x":13.4,"y":2.47},{"p":4,"id":"C","s":"long","o":4,"x":13.52,"y":1.88},{"p":4,"id":"C","s":"long","o":5,"x":13.4,"y":1.16},
      {"p":4,"id":"D","s":"long","o":0,"x":14.27,"y":0},{"p":4,"id":"D","s":"long","o":1,"x":14.52,"y":0.57},{"p":4,"id":"D","s":"long","o":2,"x":15.14,"y":0.69},{"p":4,"id":"D","s":"long","o":3,"x":15.88,"y":0.69},{"p":4,"id":"D","s":"long","o":4,"x":16.87,"y":0.81},{"p":4,"id":"D","s":"long","o":5,"x":17.74,"y":1.1},{"p":4,"id":"D","s":"long","o":6,"x":18.49,"y":1.64},{"p":4,"id":"D","s":"long","o":7,"x":18.98,"y":2.35},{"p":4,"id":"D","s":"long","o":8,"x":19.31,"y":3.07},{"p":4,"id":"D","s":"long","o":9,"x":19.48,"y":3.66},
      {"p":4,"id":"E","s":"dashdot","o":0,"x":11.04,"y":1.88},{"p":4,"id":"E","s":"dashdot","o":1,"x":11.91,"y":1.82},{"p":4,"id":"E","s":"dashdot","o":2,"x":12.41,"y":1.64},{"p":4,"id":"E","s":"dashdot","o":3,"x":12.53,"y":1.05},{"p":4,"id":"E","s":"dashdot","o":4,"x":13.03,"y":0.57},{"p":4,"id":"E","s":"dashdot","o":5,"x":13.15,"y":0.15},
      {"p":4,"id":"F","s":"dashdot","o":0,"x":10.92,"y":3.72},{"p":4,"id":"F","s":"dashdot","o":1,"x":10.79,"y":3.36},{"p":4,"id":"F","s":"dashdot","o":2,"x":10.87,"y":2.59},{"p":4,"id":"F","s":"dashdot","o":3,"x":10.87,"y":2.06},
      {"p":4,"id":"G","s":"dashdot","o":0,"x":12.28,"y":4.13},{"p":4,"id":"G","s":"dashdot","o":1,"x":12.21,"y":3.42},{"p":4,"id":"G","s":"dashdot","o":2,"x":12.11,"y":2.95},
      {"p":4,"id":"T","s":"dotted","o":0,"x":20.35,"y":5.5},{"p":4,"id":"T","s":"dotted","o":1,"x":20.27,"y":5.08},{"p":4,"id":"T","s":"dotted","o":2,"x":20.15,"y":4.61},{"p":4,"id":"T","s":"dotted","o":3,"x":19.9,"y":4.13},{"p":4,"id":"T","s":"dotted","o":4,"x":19.6,"y":3.78},{"p":4,"id":"T","s":"dotted","o":5,"x":19.35,"y":3.48}
    ],
    "labels": [
      {"p":1,"t":"20 min","k":"time","x":27.7,"y":10.7},{"p":1,"t":"12.0","k":"iso","x":29.4,"y":4.98},{"p":1,"t":"6.0","k":"iso","x":29.3,"y":3.92},
      {"p":2,"t":"21 min","k":"time","x":28.2,"y":10.7},{"p":2,"t":"12.0","k":"iso","x":30.4,"y":4.93},{"p":2,"t":"6.0","k":"iso","x":29.7,"y":3.81},
      {"p":3,"t":"22 min","k":"time","x":27.6,"y":10.64},{"p":3,"t":"12.0","k":"iso","x":29.4,"y":4.97},{"p":3,"t":"6.0","k":"iso","x":29.0,"y":3.88},
      {"p":4,"t":"23 min","k":"time","x":27.9,"y":10.6},{"p":4,"t":"12.0","k":"iso","x":29.2,"y":4.99},{"p":4,"t":"6.0","k":"iso","x":28.7,"y":3.84}
    ]
  },
  "columns": 2,
  "spacing": {"row": 49, "column": 89},
  "bounds": "flush",
  "concat": [
    {
      "width": 538, "height": 337,
      "layer": [
        {"data": {"name": "contours"}, "transform": [{"filter": "datum.p === 1"}],
         "mark": {"type": "line", "color": "#111", "strokeCap": "butt", "strokeJoin": "round"},
         "encoding": {
           "x": {"field": "x", "type": "quantitative", "scale": {"domain": [0, 34], "nice": false, "zero": false}, "axis": null},
           "y": {"field": "y", "type": "quantitative", "scale": {"domain": [0, 12], "nice": false, "zero": false}, "axis": null},
           "detail": {"field": "id"},
           "order": {"field": "o", "type": "quantitative"},
           "strokeDash": {"field": "s", "type": "nominal", "scale": {"domain": ["solid","long","short","dashdot","thick","dotted"], "range": [[1,0],[11,5],[7,4],[9,3,2,3],[1,0],[2,3]]}, "legend": null},
           "strokeWidth": {"field": "s", "type": "nominal", "scale": {"domain": ["solid","long","short","dashdot","thick","dotted"], "range": [1.2,1.2,1.2,1.2,4,3.5]}, "legend": null}
         }},
        {"data": {"name": "xt"}, "mark": {"type": "tick", "orient": "vertical", "color": "#111", "size": 7, "thickness": 1.3, "yOffset": -3.5, "opacity": 1},
         "encoding": {"x": {"field": "v", "type": "quantitative", "axis": null}, "y": {"datum": 0, "type": "quantitative", "axis": null}}},
        {"data": {"name": "xt"}, "mark": {"type": "tick", "orient": "vertical", "color": "#111", "size": 7, "thickness": 1.3, "yOffset": 3.5, "opacity": 1},
         "encoding": {"x": {"field": "v", "type": "quantitative", "axis": null}, "y": {"datum": 12, "type": "quantitative", "axis": null}}},
        {"data": {"name": "yt"}, "mark": {"type": "tick", "orient": "horizontal", "color": "#111", "size": 7, "thickness": 1.3, "xOffset": 3.5, "opacity": 1},
         "encoding": {"y": {"field": "v", "type": "quantitative", "axis": null}, "x": {"datum": 0, "type": "quantitative", "axis": null}}},
        {"data": {"name": "yt"}, "mark": {"type": "tick", "orient": "horizontal", "color": "#111", "size": 7, "thickness": 1.3, "xOffset": -3.5, "opacity": 1},
         "encoding": {"y": {"field": "v", "type": "quantitative", "axis": null}, "x": {"datum": 34, "type": "quantitative", "axis": null}}},
        {"data": {"name": "xt"}, "mark": {"type": "rule", "color": "#111", "strokeWidth": 1.3},
         "encoding": {"x": {"field": "v", "type": "quantitative", "axis": null}, "y": {"datum": 0, "type": "quantitative", "axis": null}, "y2": {"datum": 0.25}}},
        {"data": {"name": "xt"}, "mark": {"type": "rule", "color": "#111", "strokeWidth": 1.3},
         "encoding": {"x": {"field": "v", "type": "quantitative", "axis": null}, "y": {"datum": 12, "type": "quantitative", "axis": null}, "y2": {"datum": 11.75}}},
        {"data": {"name": "yt"}, "mark": {"type": "rule", "color": "#111", "strokeWidth": 1.3},
         "encoding": {"y": {"field": "v", "type": "quantitative", "axis": null}, "x": {"datum": 0, "type": "quantitative", "axis": null}, "x2": {"datum": 0.44}}},
        {"data": {"name": "yt"}, "mark": {"type": "rule", "color": "#111", "strokeWidth": 1.3},
         "encoding": {"y": {"field": "v", "type": "quantitative", "axis": null}, "x": {"datum": 34, "type": "quantitative", "axis": null}, "x2": {"datum": 33.56}}},
        {"data": {"name": "xt"}, "mark": {"type": "text", "align": "center", "baseline": "top", "dy": 9, "font": "Liberation Mono", "fontWeight": "bold", "fontSize": 10, "color": "#111"},
         "encoding": {"x": {"field": "v", "type": "quantitative", "axis": null}, "y": {"datum": 0, "type": "quantitative", "axis": null}, "text": {"field": "v", "type": "nominal"}}},
        {"data": {"name": "yl"}, "mark": {"type": "text", "align": "right", "baseline": "middle", "dx": -10, "font": "Liberation Mono", "fontWeight": "bold", "fontSize": 10, "color": "#111"},
         "encoding": {"y": {"field": "v", "type": "quantitative", "axis": null}, "x": {"datum": 0, "type": "quantitative", "axis": null}, "text": {"field": "v", "type": "nominal"}}},
        {"data": {"name": "ttl"}, "mark": {"type": "text", "align": "center", "baseline": "middle", "angle": 270, "dy": -37, "font": "DejaVu Serif", "fontSize": 18, "color": "#111"},
         "encoding": {"x": {"datum": 0, "type": "quantitative", "axis": null}, "y": {"datum": 6, "type": "quantitative", "axis": null}, "text": {"field": "t", "type": "nominal"}}},
        {"data": {"name": "labels"}, "transform": [{"filter": "datum.p === 1"}],
         "mark": {"type": "text", "align": "left", "baseline": "middle", "font": "Liberation Mono", "color": "#111"},
         "encoding": {
           "x": {"field": "x", "type": "quantitative", "axis": null},
           "y": {"field": "y", "type": "quantitative", "axis": null},
           "text": {"field": "t"},
           "size": {"field": "k", "type": "nominal", "scale": {"domain": ["time","iso"], "range": [19,18]}, "legend": null}
         }}
      ]
    },
    {
      "width": 538, "height": 337,
      "layer": [
        {"data": {"name": "contours"}, "transform": [{"filter": "datum.p === 2"}],
         "mark": {"type": "line", "color": "#111", "strokeCap": "butt", "strokeJoin": "round"},
         "encoding": {
           "x": {"field": "x", "type": "quantitative", "scale": {"domain": [0, 34], "nice": false, "zero": false}, "axis": null},
           "y": {"field": "y", "type": "quantitative", "scale": {"domain": [0, 12], "nice": false, "zero": false}, "axis": null},
           "detail": {"field": "id"},
           "order": {"field": "o", "type": "quantitative"},
           "strokeDash": {"field": "s", "type": "nominal", "scale": {"domain": ["solid","long","short","dashdot","thick","dotted"], "range": [[1,0],[11,5],[7,4],[9,3,2,3],[1,0],[2,3]]}, "legend": null},
           "strokeWidth": {"field": "s", "type": "nominal", "scale": {"domain": ["solid","long","short","dashdot","thick","dotted"], "range": [1.2,1.2,1.2,1.2,4,3.5]}, "legend": null}
         }},
        {"data": {"name": "xt"}, "mark": {"type": "tick", "orient": "vertical", "color": "#111", "size": 7, "thickness": 1.3, "yOffset": -3.5, "opacity": 1},
         "encoding": {"x": {"field": "v", "type": "quantitative", "axis": null}, "y": {"datum": 0, "type": "quantitative", "axis": null}}},
        {"data": {"name": "xt"}, "mark": {"type": "tick", "orient": "vertical", "color": "#111", "size": 7, "thickness": 1.3, "yOffset": 3.5, "opacity": 1},
         "encoding": {"x": {"field": "v", "type": "quantitative", "axis": null}, "y": {"datum": 12, "type": "quantitative", "axis": null}}},
        {"data": {"name": "yt"}, "mark": {"type": "tick", "orient": "horizontal", "color": "#111", "size": 7, "thickness": 1.3, "xOffset": 3.5, "opacity": 1},
         "encoding": {"y": {"field": "v", "type": "quantitative", "axis": null}, "x": {"datum": 0, "type": "quantitative", "axis": null}}},
        {"data": {"name": "yt"}, "mark": {"type": "tick", "orient": "horizontal", "color": "#111", "size": 7, "thickness": 1.3, "xOffset": -3.5, "opacity": 1},
         "encoding": {"y": {"field": "v", "type": "quantitative", "axis": null}, "x": {"datum": 34, "type": "quantitative", "axis": null}}},
        {"data": {"name": "xt"}, "mark": {"type": "rule", "color": "#111", "strokeWidth": 1.3},
         "encoding": {"x": {"field": "v", "type": "quantitative", "axis": null}, "y": {"datum": 0, "type": "quantitative", "axis": null}, "y2": {"datum": 0.25}}},
        {"data": {"name": "xt"}, "mark": {"type": "rule", "color": "#111", "strokeWidth": 1.3},
         "encoding": {"x": {"field": "v", "type": "quantitative", "axis": null}, "y": {"datum": 12, "type": "quantitative", "axis": null}, "y2": {"datum": 11.75}}},
        {"data": {"name": "yt"}, "mark": {"type": "rule", "color": "#111", "strokeWidth": 1.3},
         "encoding": {"y": {"field": "v", "type": "quantitative", "axis": null}, "x": {"datum": 0, "type": "quantitative", "axis": null}, "x2": {"datum": 0.44}}},
        {"data": {"name": "yt"}, "mark": {"type": "rule", "color": "#111", "strokeWidth": 1.3},
         "encoding": {"y": {"field": "v", "type": "quantitative", "axis": null}, "x": {"datum": 34, "type": "quantitative", "axis": null}, "x2": {"datum": 33.56}}},
        {"data": {"name": "xt"}, "mark": {"type": "text", "align": "center", "baseline": "top", "dy": 9, "font": "Liberation Mono", "fontWeight": "bold", "fontSize": 10, "color": "#111"},
         "encoding": {"x": {"field": "v", "type": "quantitative", "axis": null}, "y": {"datum": 0, "type": "quantitative", "axis": null}, "text": {"field": "v", "type": "nominal"}}},
        {"data": {"name": "yl"}, "mark": {"type": "text", "align": "right", "baseline": "middle", "dx": -10, "font": "Liberation Mono", "fontWeight": "bold", "fontSize": 10, "color": "#111"},
         "encoding": {"y": {"field": "v", "type": "quantitative", "axis": null}, "x": {"datum": 0, "type": "quantitative", "axis": null}, "text": {"field": "v", "type": "nominal"}}},
        {"data": {"name": "ttl"}, "mark": {"type": "text", "align": "center", "baseline": "middle", "angle": 270, "dy": -37, "font": "DejaVu Serif", "fontSize": 18, "color": "#111"},
         "encoding": {"x": {"datum": 0, "type": "quantitative", "axis": null}, "y": {"datum": 6, "type": "quantitative", "axis": null}, "text": {"field": "t", "type": "nominal"}}},
        {"data": {"name": "labels"}, "transform": [{"filter": "datum.p === 2"}],
         "mark": {"type": "text", "align": "left", "baseline": "middle", "font": "Liberation Mono", "color": "#111"},
         "encoding": {
           "x": {"field": "x", "type": "quantitative", "axis": null},
           "y": {"field": "y", "type": "quantitative", "axis": null},
           "text": {"field": "t"},
           "size": {"field": "k", "type": "nominal", "scale": {"domain": ["time","iso"], "range": [19,18]}, "legend": null}
         }}
      ]
    },
    {
      "width": 538, "height": 337,
      "layer": [
        {"data": {"name": "contours"}, "transform": [{"filter": "datum.p === 3"}],
         "mark": {"type": "line", "color": "#111", "strokeCap": "butt", "strokeJoin": "round"},
         "encoding": {
           "x": {"field": "x", "type": "quantitative", "scale": {"domain": [0, 34], "nice": false, "zero": false}, "axis": null},
           "y": {"field": "y", "type": "quantitative", "scale": {"domain": [0, 12], "nice": false, "zero": false}, "axis": null},
           "detail": {"field": "id"},
           "order": {"field": "o", "type": "quantitative"},
           "strokeDash": {"field": "s", "type": "nominal", "scale": {"domain": ["solid","long","short","dashdot","thick","dotted"], "range": [[1,0],[11,5],[7,4],[9,3,2,3],[1,0],[2,3]]}, "legend": null},
           "strokeWidth": {"field": "s", "type": "nominal", "scale": {"domain": ["solid","long","short","dashdot","thick","dotted"], "range": [1.2,1.2,1.2,1.2,4,3.5]}, "legend": null}
         }},
        {"data": {"name": "xt"}, "mark": {"type": "tick", "orient": "vertical", "color": "#111", "size": 7, "thickness": 1.3, "yOffset": -3.5, "opacity": 1},
         "encoding": {"x": {"field": "v", "type": "quantitative", "axis": null}, "y": {"datum": 0, "type": "quantitative", "axis": null}}},
        {"data": {"name": "xt"}, "mark": {"type": "tick", "orient": "vertical", "color": "#111", "size": 7, "thickness": 1.3, "yOffset": 3.5, "opacity": 1},
         "encoding": {"x": {"field": "v", "type": "quantitative", "axis": null}, "y": {"datum": 12, "type": "quantitative", "axis": null}}},
        {"data": {"name": "yt"}, "mark": {"type": "tick", "orient": "horizontal", "color": "#111", "size": 7, "thickness": 1.3, "xOffset": 3.5, "opacity": 1},
         "encoding": {"y": {"field": "v", "type": "quantitative", "axis": null}, "x": {"datum": 0, "type": "quantitative", "axis": null}}},
        {"data": {"name": "yt"}, "mark": {"type": "tick", "orient": "horizontal", "color": "#111", "size": 7, "thickness": 1.3, "xOffset": -3.5, "opacity": 1},
         "encoding": {"y": {"field": "v", "type": "quantitative", "axis": null}, "x": {"datum": 34, "type": "quantitative", "axis": null}}},
        {"data": {"name": "xt"}, "mark": {"type": "rule", "color": "#111", "strokeWidth": 1.3},
         "encoding": {"x": {"field": "v", "type": "quantitative", "axis": null}, "y": {"datum": 0, "type": "quantitative", "axis": null}, "y2": {"datum": 0.25}}},
        {"data": {"name": "xt"}, "mark": {"type": "rule", "color": "#111", "strokeWidth": 1.3},
         "encoding": {"x": {"field": "v", "type": "quantitative", "axis": null}, "y": {"datum": 12, "type": "quantitative", "axis": null}, "y2": {"datum": 11.75}}},
        {"data": {"name": "yt"}, "mark": {"type": "rule", "color": "#111", "strokeWidth": 1.3},
         "encoding": {"y": {"field": "v", "type": "quantitative", "axis": null}, "x": {"datum": 0, "type": "quantitative", "axis": null}, "x2": {"datum": 0.44}}},
        {"data": {"name": "yt"}, "mark": {"type": "rule", "color": "#111", "strokeWidth": 1.3},
         "encoding": {"y": {"field": "v", "type": "quantitative", "axis": null}, "x": {"datum": 34, "type": "quantitative", "axis": null}, "x2": {"datum": 33.56}}},
        {"data": {"name": "xt"}, "mark": {"type": "text", "align": "center", "baseline": "top", "dy": 9, "font": "Liberation Mono", "fontWeight": "bold", "fontSize": 10, "color": "#111"},
         "encoding": {"x": {"field": "v", "type": "quantitative", "axis": null}, "y": {"datum": 0, "type": "quantitative", "axis": null}, "text": {"field": "v", "type": "nominal"}}},
        {"data": {"name": "yl"}, "mark": {"type": "text", "align": "right", "baseline": "middle", "dx": -10, "font": "Liberation Mono", "fontWeight": "bold", "fontSize": 10, "color": "#111"},
         "encoding": {"y": {"field": "v", "type": "quantitative", "axis": null}, "x": {"datum": 0, "type": "quantitative", "axis": null}, "text": {"field": "v", "type": "nominal"}}},
        {"data": {"name": "ttl"}, "mark": {"type": "text", "align": "center", "baseline": "middle", "angle": 270, "dy": -37, "font": "DejaVu Serif", "fontSize": 18, "color": "#111"},
         "encoding": {"x": {"datum": 0, "type": "quantitative", "axis": null}, "y": {"datum": 6, "type": "quantitative", "axis": null}, "text": {"field": "t", "type": "nominal"}}},
        {"data": {"name": "labels"}, "transform": [{"filter": "datum.p === 3"}],
         "mark": {"type": "text", "align": "left", "baseline": "middle", "font": "Liberation Mono", "color": "#111"},
         "encoding": {
           "x": {"field": "x", "type": "quantitative", "axis": null},
           "y": {"field": "y", "type": "quantitative", "axis": null},
           "text": {"field": "t"},
           "size": {"field": "k", "type": "nominal", "scale": {"domain": ["time","iso"], "range": [19,18]}, "legend": null}
         }}
      ]
    },
    {
      "width": 538, "height": 337,
      "layer": [
        {"data": {"name": "contours"}, "transform": [{"filter": "datum.p === 4"}],
         "mark": {"type": "line", "color": "#111", "strokeCap": "butt", "strokeJoin": "round"},
         "encoding": {
           "x": {"field": "x", "type": "quantitative", "scale": {"domain": [0, 34], "nice": false, "zero": false}, "axis": null},
           "y": {"field": "y", "type": "quantitative", "scale": {"domain": [0, 12], "nice": false, "zero": false}, "axis": null},
           "detail": {"field": "id"},
           "order": {"field": "o", "type": "quantitative"},
           "strokeDash": {"field": "s", "type": "nominal", "scale": {"domain": ["solid","long","short","dashdot","thick","dotted"], "range": [[1,0],[11,5],[7,4],[9,3,2,3],[1,0],[2,3]]}, "legend": null},
           "strokeWidth": {"field": "s", "type": "nominal", "scale": {"domain": ["solid","long","short","dashdot","thick","dotted"], "range": [1.2,1.2,1.2,1.2,4,3.5]}, "legend": null}
         }},
        {"data": {"name": "xt"}, "mark": {"type": "tick", "orient": "vertical", "color": "#111", "size": 7, "thickness": 1.3, "yOffset": -3.5, "opacity": 1},
         "encoding": {"x": {"field": "v", "type": "quantitative", "axis": null}, "y": {"datum": 0, "type": "quantitative", "axis": null}}},
        {"data": {"name": "xt"}, "mark": {"type": "tick", "orient": "vertical", "color": "#111", "size": 7, "thickness": 1.3, "yOffset": 3.5, "opacity": 1},
         "encoding": {"x": {"field": "v", "type": "quantitative", "axis": null}, "y": {"datum": 12, "type": "quantitative", "axis": null}}},
        {"data": {"name": "yt"}, "mark": {"type": "tick", "orient": "horizontal", "color": "#111", "size": 7, "thickness": 1.3, "xOffset": 3.5, "opacity": 1},
         "encoding": {"y": {"field": "v", "type": "quantitative", "axis": null}, "x": {"datum": 0, "type": "quantitative", "axis": null}}},
        {"data": {"name": "yt"}, "mark": {"type": "tick", "orient": "horizontal", "color": "#111", "size": 7, "thickness": 1.3, "xOffset": -3.5, "opacity": 1},
         "encoding": {"y": {"field": "v", "type": "quantitative", "axis": null}, "x": {"datum": 34, "type": "quantitative", "axis": null}}},
        {"data": {"name": "xt"}, "mark": {"type": "rule", "color": "#111", "strokeWidth": 1.3},
         "encoding": {"x": {"field": "v", "type": "quantitative", "axis": null}, "y": {"datum": 0, "type": "quantitative", "axis": null}, "y2": {"datum": 0.25}}},
        {"data": {"name": "xt"}, "mark": {"type": "rule", "color": "#111", "strokeWidth": 1.3},
         "encoding": {"x": {"field": "v", "type": "quantitative", "axis": null}, "y": {"datum": 12, "type": "quantitative", "axis": null}, "y2": {"datum": 11.75}}},
        {"data": {"name": "yt"}, "mark": {"type": "rule", "color": "#111", "strokeWidth": 1.3},
         "encoding": {"y": {"field": "v", "type": "quantitative", "axis": null}, "x": {"datum": 0, "type": "quantitative", "axis": null}, "x2": {"datum": 0.44}}},
        {"data": {"name": "yt"}, "mark": {"type": "rule", "color": "#111", "strokeWidth": 1.3},
         "encoding": {"y": {"field": "v", "type": "quantitative", "axis": null}, "x": {"datum": 34, "type": "quantitative", "axis": null}, "x2": {"datum": 33.56}}},
        {"data": {"name": "xt"}, "mark": {"type": "text", "align": "center", "baseline": "top", "dy": 9, "font": "Liberation Mono", "fontWeight": "bold", "fontSize": 10, "color": "#111"},
         "encoding": {"x": {"field": "v", "type": "quantitative", "axis": null}, "y": {"datum": 0, "type": "quantitative", "axis": null}, "text": {"field": "v", "type": "nominal"}}},
        {"data": {"name": "yl"}, "mark": {"type": "text", "align": "right", "baseline": "middle", "dx": -10, "font": "Liberation Mono", "fontWeight": "bold", "fontSize": 10, "color": "#111"},
         "encoding": {"y": {"field": "v", "type": "quantitative", "axis": null}, "x": {"datum": 0, "type": "quantitative", "axis": null}, "text": {"field": "v", "type": "nominal"}}},
        {"data": {"name": "ttl"}, "mark": {"type": "text", "align": "center", "baseline": "middle", "angle": 270, "dy": -37, "font": "DejaVu Serif", "fontSize": 18, "color": "#111"},
         "encoding": {"x": {"datum": 0, "type": "quantitative", "axis": null}, "y": {"datum": 6, "type": "quantitative", "axis": null}, "text": {"field": "t", "type": "nominal"}}},
        {"data": {"name": "labels"}, "transform": [{"filter": "datum.p === 4"}],
         "mark": {"type": "text", "align": "left", "baseline": "middle", "font": "Liberation Mono", "color": "#111"},
         "encoding": {
           "x": {"field": "x", "type": "quantitative", "axis": null},
           "y": {"field": "y", "type": "quantitative", "axis": null},
           "text": {"field": "t"},
           "size": {"field": "k", "type": "nominal", "scale": {"domain": ["time","iso"], "range": [19,18]}, "legend": null}
         }}
      ]
    }
  ]
}
